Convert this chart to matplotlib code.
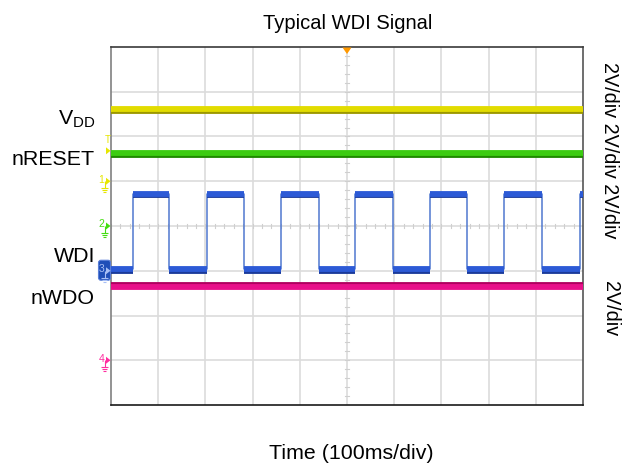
import matplotlib
matplotlib.use("Agg")
import matplotlib.pyplot as plt
import matplotlib.patheffects as pe
from matplotlib.lines import Line2D
from matplotlib.patches import FancyBboxPatch, Polygon
from matplotlib.transforms import IdentityTransform
import numpy as np

plt.rcParams["font.family"] = ["Liberation Sans", "DejaVu Sans"]
plt.rcParams["mathtext.fontset"] = "custom"
plt.rcParams["mathtext.rm"] = "Liberation Sans"
plt.rcParams["mathtext.it"] = "Liberation Sans:italic"

# ---- scope settings ----
ms_per_div = 100
volts_per_div = 2
n_hdiv = 10
n_vdiv = 8

# ---- measured levels (volts) ----
vdd_level_v = 3.23
nreset_level_v = 3.25
nwdo_level_v = 3.29
wdi_low_v = 0.06
wdi_high_v = 3.45
trigger_level_v = 1.36

# WDI edge times (ms)
wdi_rising_ms = [46, 203, 360, 518, 675, 833, 994]
wdi_falling_ms = [123, 282, 440, 597, 755, 913]

channel_labels = ["V$_{\\mathrm{DD}}$", "nRESET", "WDI", "nWDO"]
scale_labels = ["2V/div 2V/div 2V/div", "2V/div"]
title_text = "Typical WDI Signal"
xlabel_text = "Time (100ms/div)"

# ground reference of each channel, in divisions from the bottom
ch_ground_div = {1: 5, 2: 4, 3: 3, 4: 1}

W, H = 630, 465
fig = plt.figure(figsize=(W / 100, H / 100), dpi=100)
ax = fig.add_axes([111 / W, 1 - 405 / H, 472 / W, 358 / H])
t_end = n_hdiv * ms_per_div
ax.set_xlim(0, t_end)
ax.set_ylim(0, n_vdiv)
ax.set_xticks([])
ax.set_yticks([])

# graticule
for k in range(1, n_hdiv):
    ax.axvline(k * ms_per_div, color="#dcdcdc", lw=1.2, zorder=0)
for k in range(1, n_vdiv):
    ax.axhline(k, color="#dcdcdc", lw=1.2, zorder=0)
# minor marks on the centre cross
for x in np.arange(0, t_end + 0.1, ms_per_div / 5):
    ax.plot([x, x], [n_vdiv / 2 - 0.05, n_vdiv / 2 + 0.05], color="#cfcfcf", lw=0.8, zorder=0)
for y in np.arange(0, n_vdiv + 0.01, 0.2):
    ax.plot([t_end / 2 - 4.5, t_end / 2 + 4.5], [y, y], color="#cfcfcf", lw=0.8, zorder=0)

for side, col in (("left", "#808080"), ("bottom", "#1a1a1a"), ("top", "#3a3a3a"), ("right", "#555555")):
    ax.spines[side].set_color(col)
    ax.spines[side].set_linewidth(1.2)


def to_div(ch, volts):
    return ch_ground_div[ch] + volts / volts_per_div


def band(x0, x1, y, color, edge, shift):
    ax.hlines(y, x0, x1, colors=color, lw=4.2, capstyle="butt", zorder=3,
              path_effects=[pe.Stroke(linewidth=4.2, foreground=edge, offset=(0, shift)),
                            pe.Normal()])


# steady rails
band(0, t_end, to_div(1, vdd_level_v), "#e2dc00", "#9c9800", -1.2)
band(0, t_end, to_div(2, nreset_level_v), "#3ccc12", "#1f8a00", -1.2)
band(0, t_end, to_div(4, nwdo_level_v), "#e8108a", "#b0005f", 1.2)

# WDI square wave
edges = sorted(wdi_rising_ms + wdi_falling_ms)
times = [0] + edges + [t_end]
levels = []
lvl = wdi_low_v
for i in range(len(times) - 1):
    levels.append(lvl)
    lvl = wdi_high_v if lvl == wdi_low_v else wdi_low_v
wdi_y = [to_div(3, v) for v in levels]
ax.plot(times, wdi_y + [wdi_y[-1]], drawstyle="steps-post", color="#5078d0", lw=1.1, zorder=2)
for i in range(len(times) - 1):
    band(times[i], times[i + 1], wdi_y[i], "#2c5ad6", "#1a3a9a", -1.2)

# ---- markers on the left edge, drawn in pixel space ----
ident = IdentityTransform()


def img_y(div):
    return H - ax.transData.transform((0, div))[1]


def seg(x0, y0, x1, y1, color, lw=1.0):
    fig.add_artist(Line2D([x0, x1], [H - y0, H - y1], color=color, lw=lw,
                          transform=ident, solid_capstyle="butt", zorder=6))


def arrow(y0, color):
    fig.add_artist(Polygon([[106, H - (y0 - 3.5)], [106, H - (y0 + 3.5)], [110.5, H - y0]],
                           closed=True, color=color, lw=0, transform=ident, zorder=6))


def ground_marker(ch, color, boxed=False):
    y0 = img_y(ch_ground_div[ch])
    if boxed:
        fig.add_artist(FancyBboxPatch((98.5, H - (y0 + 9.5)), 12, 20,
                                      boxstyle="round,pad=0,rounding_size=2.5",
                                      fc="#1f4fb8", ec="#5a7fd8", lw=0.8,
                                      transform=ident, zorder=5))
        color = "#a8bff5"
    arrow(y0, color)
    fig.text(101.5 / W, 1 - (y0 - 1.5) / H, str(ch), fontsize=7.5, color=color,
             ha="center", va="center", zorder=6)
    seg(104.5, y0, 104.5, y0 + 7, color, 0.8)
    for j, half in enumerate((3.5, 2.5, 1.2)):
        yy = y0 + 7 + 2 * j
        seg(104.5 - half, yy, 104.5 + half, yy, color, 0.8)


ground_marker(1, "#e6e600")
ground_marker(2, "#44dd11")
ground_marker(3, "#1f4fb8", boxed=True)
ground_marker(4, "#ff2ea0")

# trigger level marker
y_trig = img_y(to_div(1, trigger_level_v))
arrow(y_trig, "#e6e600")
fig.text(107.5 / W, 1 - (y_trig - 10.5) / H, "T", fontsize=7, color="#e6e600",
         ha="center", va="center")
# trigger position marker
x_trig = ax.transData.transform((t_end / 2, 0))[0]
fig.add_artist(Polygon([[x_trig - 4.5, H - 47.5], [x_trig + 4.5, H - 47.5], [x_trig, H - 54]],
                       closed=True, color="#ff9900", lw=0, transform=ident, zorder=6))

# ---- text ----
fig.text(347.7 / W, 1 - 29 / H, title_text, ha="center", va="baseline", fontsize=14.5)
fig.text(351.5 / W, 1 - 459 / H, xlabel_text, ha="center", va="baseline", fontsize=15.4)
label_baselines = [125, 165, 262, 304]
for lab, yb in zip(channel_labels, label_baselines):
    fig.text(95 / W, 1 - yb / H, lab, ha="right", va="baseline", fontsize=15.4)
fig.text(610 / W, 1 - 150 / H, scale_labels[0], rotation=270, ha="center", va="center", fontsize=14.2)
fig.text(610 / W, 1 - 308.5 / H, scale_labels[1], rotation=270, ha="center", va="center", fontsize=14.2)

fig.savefig("out.png", dpi=100)
